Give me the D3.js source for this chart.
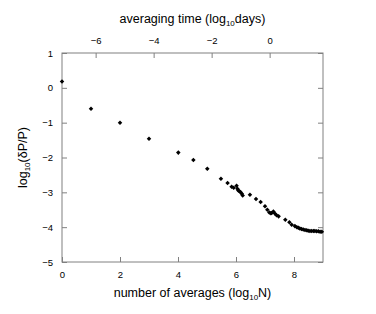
<!DOCTYPE html>
<html>
<head>
<meta charset="utf-8">
<script src="https://cdn.jsdelivr.net/npm/d3@7"></script>
<style>
  body { margin: 0; background: #fff; }
  svg text { font-family: "Liberation Sans", Arial, sans-serif; }
</style>
</head>
<body>
<svg id="chart" width="376" height="314"></svg>
<script>
'use strict';

// log10 N, log10(dP/P)
var logN = [0, 1, 2, 3, 4.01, 4.53, 5.01, 5.48, 5.71, 5.85, 5.92, 6.02, 6.05, 6.08, 6.12, 6.16, 6.2, 6.23,
    6.48, 6.69, 6.85, 7.0, 7.08, 7.15, 7.2, 7.23, 7.29, 7.34, 7.4, 7.47, 7.7, 7.84, 7.92, 8.03, 8.1,
    8.15, 8.2, 8.26, 8.32, 8.38, 8.44, 8.49, 8.55, 8.61, 8.67, 8.72, 8.78, 8.84, 8.9, 8.96];
var logErr = [0.18, -0.6, -1.0, -1.46, -1.86, -2.07, -2.32, -2.61, -2.73, -2.84, -2.87, -2.81, -2.9, -2.95, -2.97, -3.0, -3.04, -3.09,
    -3.07, -3.19, -3.28, -3.4, -3.5, -3.58, -3.6, -3.59, -3.55, -3.61, -3.66, -3.69, -3.79, -3.86, -3.93, -3.97, -4.0,
    -4.02, -4.04, -4.05, -4.07, -4.08, -4.09, -4.1, -4.11, -4.11, -4.11, -4.11, -4.12, -4.12, -4.13, -4.13];

var xTicks = [0, 2, 4, 6, 8];
var topTicks = [-6, -4, -2, 0];
var yTicks = [1, 0, -1, -2, -3, -4, -5];
var timeOffset = 7.16;   // log10 days = log10 N - offset

var svg = d3.select('#chart');
var plotLeft = 62, plotRight = 323, plotTop = 53, plotBottom = 262;
var axisColor = '#808080';

var x = d3.scaleLinear().domain([0, 9]).range([plotLeft, plotRight]);
var xTop = d3.scaleLinear().domain([0 - timeOffset, 9 - timeOffset]).range([plotLeft, plotRight]);
var y = d3.scaleLinear().domain([-5, 1]).range([plotBottom, plotTop]);

function styleAxis(g) {
    g.select('.domain').remove();
    g.selectAll('.tick line').attr('stroke', axisColor);
    g.selectAll('.tick text').attr('fill', '#000').attr('font-size', 9.5);
}

svg.append('g')
    .attr('transform', 'translate(0,' + plotBottom + ')')
    .call(d3.axisBottom(x).tickValues(xTicks).tickFormat(d3.format('d')).tickSizeInner(-5).tickPadding(9))
    .call(styleAxis);

svg.append('g')
    .attr('transform', 'translate(0,' + plotTop + ')')
    .call(d3.axisTop(xTop).tickValues(topTicks).tickFormat(d3.format('d')).tickSizeInner(-5).tickPadding(9))
    .call(styleAxis);

svg.append('g')
    .attr('transform', 'translate(' + plotLeft + ',0)')
    .call(d3.axisLeft(y).tickValues(yTicks).tickFormat(d3.format('d')).tickSizeInner(-5).tickPadding(9))
    .call(styleAxis);

svg.append('g')
    .attr('transform', 'translate(' + plotRight + ',0)')
    .call(d3.axisRight(y).tickValues(yTicks).tickFormat('').tickSizeInner(-5))
    .call(styleAxis);

svg.append('rect')
    .attr('x', plotLeft).attr('y', plotTop)
    .attr('width', plotRight - plotLeft).attr('height', plotBottom - plotTop)
    .attr('fill', 'none').attr('stroke', axisColor).attr('stroke-width', 1);

var points = logN.map(function(d, i) { return { n: d, e: logErr[i] }; });
var diamond = d3.symbol().type(d3.symbolDiamond2).size(13);

svg.append('g')
    .selectAll('path')
    .data(points)
    .enter().append('path')
    .attr('d', diamond)
    .attr('transform', function(d) { return 'translate(' + x(d.n) + ',' + y(d.e) + ')'; })
    .attr('fill', '#000');

// titles
var bt = svg.append('text')
    .attr('x', (plotLeft + plotRight) / 2).attr('y', 297)
    .attr('text-anchor', 'middle').attr('font-size', 12.5);
bt.append('tspan').text('number of averages (log');
bt.append('tspan').attr('font-size', 8).attr('dy', 3).text('10');
bt.append('tspan').attr('dy', -3).text('N)');

var tt = svg.append('text')
    .attr('x', (plotLeft + plotRight) / 2).attr('y', 23)
    .attr('text-anchor', 'middle').attr('font-size', 12.5);
tt.append('tspan').text('averaging time (log');
tt.append('tspan').attr('font-size', 8).attr('dy', 3).text('10');
tt.append('tspan').attr('dy', -3).text('days)');

var yt = svg.append('text')
    .attr('transform', 'translate(27,' + ((plotTop + plotBottom) / 2) + ') rotate(-90)')
    .attr('text-anchor', 'middle').attr('font-size', 12.5);
yt.append('tspan').text('log');
yt.append('tspan').attr('font-size', 8).attr('dy', 3).text('10');
yt.append('tspan').attr('dy', -3).text('(δP/P)');
</script>
</body>
</html>
